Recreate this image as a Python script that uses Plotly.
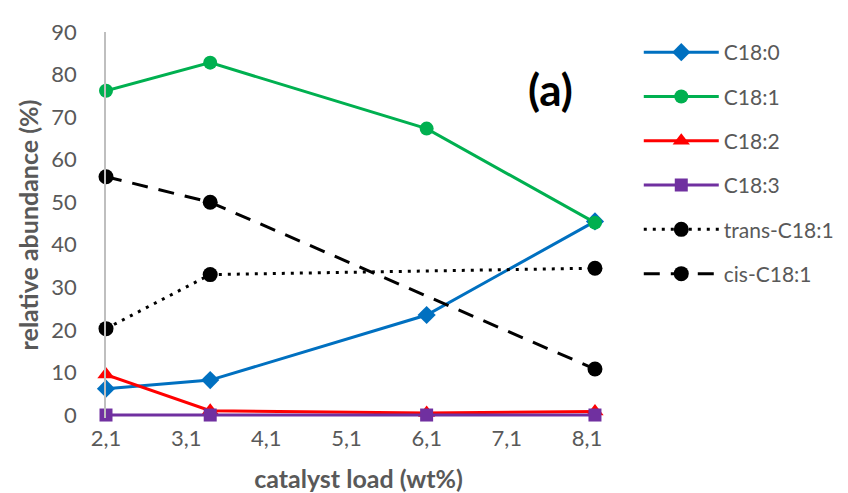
import plotly.graph_objects as go

x_load = [2.1, 3.4, 6.1, 8.2]
c18_0 = [6.2, 8.2, 23.5, 45.5]
c18_1 = [76.2, 82.8, 67.3, 45.2]
c18_2 = [9.5, 1.0, 0.5, 0.8]
c18_3 = [0.0, 0.0, 0.0, 0.0]
trans_c18_1 = [20.3, 33.0, None, 34.5]
cis_c18_1 = [56.0, 50.0, None, 10.8]

x_ticks = [2.1, 3.1, 4.1, 5.1, 6.1, 7.1, 8.1]
x_ticktext = ["2,1", "3,1", "4,1", "5,1", "6,1", "7,1", "8,1"]
y_ticks = [0, 10, 20, 30, 40, 50, 60, 70, 80, 90]

FONT = "Lato, Open Sans, sans-serif"
GRAY = "#595959"

series = [
    ("C18:0", c18_0, "#0070C0", "diamond", "solid", 14),
    ("C18:1", c18_1, "#00B050", "circle", "solid", 14),
    ("C18:2", c18_2, "#FF0000", "triangle-up", "solid", 15),
    ("C18:3", c18_3, "#7030A0", "square", "solid", 13),
    ("trans-C18:1", trans_c18_1, "#000000", "circle", "3px,6px", 15),
    ("cis-C18:1", cis_c18_1, "#000000", "circle", "16px,11px", 15),
]

fig = go.Figure()
order = [0, 1, 4, 5, 2, 3]
for i in order:
    name, y, col, sym, dash, ms = series[i]
    fig.add_trace(go.Scatter(
        x=x_load, y=y, name=name, mode="lines+markers",
        line=dict(color=col, width=3, dash=dash),
        marker=dict(color=col, symbol=sym, size=ms),
        connectgaps=True, cliponaxis=False,
        legendgroup=name, legendrank=i + 1,
    ))

fig.add_annotation(x=7.65, y=76.5, xref="x", yref="y", text="<b>(a)</b>",
                   showarrow=False, font=dict(family=FONT, size=44, color="#000000"))

fig.update_layout(
    width=848, height=493,
    margin=dict(l=98, r=245, t=24, b=83, autoexpand=False),
    paper_bgcolor="white", plot_bgcolor="white",
    font=dict(family=FONT, color=GRAY, size=21),
    legend=dict(x=1.055, y=1.0, xanchor="left", yanchor="top",
                font=dict(family=FONT, size=21, color=GRAY),
                tracegroupgap=14, itemwidth=75, maxheight=480,
                bgcolor="rgba(0,0,0,0)"),
    xaxis=dict(range=[2.1, 8.4], tickvals=x_ticks, ticktext=x_ticktext,
               showgrid=False, zeroline=False, showline=False, ticks="",
               ticklabelstandoff=5, automargin=False,
               tickfont=dict(size=22, color=GRAY),
               title=dict(text="<b>catalyst load (wt%)</b>", standoff=20,
                          font=dict(size=25, color=GRAY))),
    yaxis=dict(range=[-0.7, 90], tickvals=y_ticks, showgrid=False, zeroline=False,
               showline=True, linecolor="#BFBFBF", linewidth=1.5, ticks="",
               ticklabelstandoff=23, automargin=False,
               tickfont=dict(size=22, color=GRAY),
               title=dict(text="<b>relative abundance (%)</b>", standoff=6,
                          font=dict(size=25, color=GRAY))),
)

fig.write_html("out.html")
